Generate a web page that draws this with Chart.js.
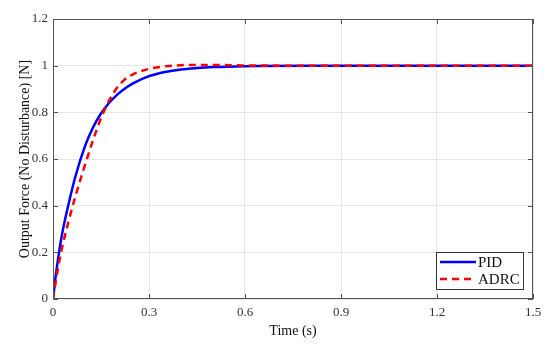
<!DOCTYPE html>
<html>
<head>
<meta charset="utf-8">
<script src="https://cdn.jsdelivr.net/npm/chart.js@4/dist/chart.umd.min.js"></script>
<style>
  html, body { margin: 0; padding: 0; background: #fff; }
  #wrap { width: 550px; height: 344px; }
</style>
</head>
<body>
<div id="wrap"><canvas id="stepChart" width="550" height="344"></canvas></div>
<script>
// time samples (s) and responses
const time = [0, 0.01, 0.02, 0.03, 0.05, 0.07, 0.1, 0.125, 0.15, 0.175, 0.2, 0.225, 0.25, 0.3, 0.35, 0.4, 0.45, 0.5, 0.6, 0.8, 1.0, 1.2, 1.5];
const pid  = [0, 0.115, 0.21, 0.29, 0.415, 0.525, 0.655, 0.735, 0.795, 0.84, 0.875, 0.902, 0.924, 0.955, 0.973, 0.984, 0.99, 0.994, 0.998, 1.0, 1.0, 1.0, 1.0];
const adrc = [0, 0.085, 0.165, 0.23, 0.34, 0.44, 0.575, 0.68, 0.775, 0.85, 0.905, 0.942, 0.963, 0.986, 0.997, 1.002, 1.003, 1.003, 1.001, 1.0, 1.0, 1.0, 1.0];

const xTicks = [0, 0.3, 0.6, 0.9, 1.2, 1.5];
const yTicks = [0, 0.2, 0.4, 0.6, 0.8, 1, 1.2];

const axisColor = '#555';
const serif = "'Liberation Serif', 'DejaVu Serif', serif";

function toPoints(xs, ys) {
  return xs.map((x, i) => ({ x: x, y: ys[i] }));
}

// box round the plot, inward ticks and the legend (MATLAB look)
const boxPlugin = {
  id: 'boxPlugin',
  afterDraw(chart) {
    const ctx = chart.ctx;
    const a = chart.chartArea;
    const xs = chart.scales.x;
    const ys = chart.scales.y;
    ctx.save();
    ctx.strokeStyle = axisColor;
    ctx.lineWidth = 1;
    ctx.strokeRect(a.left + 0.5, a.top + 0.5, a.right - a.left - 1, a.bottom - a.top - 1);
    ctx.beginPath();
    xTicks.forEach(t => {
      const px = Math.round(xs.getPixelForValue(t)) + 0.5;
      ctx.moveTo(px, a.bottom); ctx.lineTo(px, a.bottom - 5);
      ctx.moveTo(px, a.top); ctx.lineTo(px, a.top + 5);
    });
    yTicks.forEach(t => {
      const py = Math.round(ys.getPixelForValue(t)) + 0.5;
      ctx.moveTo(a.left, py); ctx.lineTo(a.left + 5, py);
      ctx.moveTo(a.right, py); ctx.lineTo(a.right - 5, py);
    });
    ctx.stroke();

    // legend
    const lx = 436, ly = 252, lw = 87, lh = 37;
    ctx.fillStyle = '#fff';
    ctx.fillRect(lx, ly, lw, lh);
    ctx.strokeStyle = '#333';
    ctx.strokeRect(lx + 0.5, ly + 0.5, lw, lh);
    const items = chart.data.datasets;
    items.forEach((ds, i) => {
      const yy = ly + 10 + i * 17;
      ctx.beginPath();
      ctx.strokeStyle = ds.borderColor;
      ctx.lineWidth = 2.5;
      ctx.setLineDash(ds.borderDash || []);
      ctx.moveTo(lx + 4, yy);
      ctx.lineTo(lx + 40, yy);
      ctx.stroke();
      ctx.setLineDash([]);
      ctx.fillStyle = '#111';
      ctx.font = '15px ' + serif;
      ctx.textBaseline = 'middle';
      ctx.fillText(ds.label, lx + 42, yy + 1);
    });
    ctx.restore();
  }
};

const ctx = document.getElementById('stepChart').getContext('2d');
new Chart(ctx, {
  type: 'line',
  data: {
    datasets: [
      {
        label: 'PID',
        data: toPoints(time, pid),
        borderColor: '#0000ff',
        borderWidth: 2.5,
        pointRadius: 0,
        cubicInterpolationMode: 'monotone',
        order: 2
      },
      {
        label: 'ADRC',
        data: toPoints(time, adrc),
        borderColor: '#ff0000',
        borderWidth: 2.5,
        borderDash: [7, 5],
        pointRadius: 0,
        cubicInterpolationMode: 'monotone',
        order: 1
      }
    ]
  },
  options: {
    responsive: false,
    animation: false,
    layout: { padding: { top: 19, right: 17, left: 13, bottom: 0 } },
    plugins: {
      legend: { display: false },
      tooltip: { enabled: false }
    },
    scales: {
      x: {
        type: 'linear',
        min: 0,
        max: 1.5,
        afterBuildTicks: (scale) => { scale.ticks = xTicks.map(v => ({ value: v })); },
        afterFit: (scale) => { scale.height = 45; },
        grid: { color: '#e6e6e6', drawTicks: false },
        border: { display: false },
        ticks: {
          color: '#333',
          padding: 6,
          maxRotation: 0,
          font: { family: serif, size: 13 },
          callback: (v) => String(v)
        },
        title: {
          display: true,
          text: 'Time (s)',
          color: '#111',
          padding: { top: 1 },
          font: { family: serif, size: 14 }
        }
      },
      y: {
        type: 'linear',
        min: 0,
        max: 1.2,
        afterBuildTicks: (scale) => { scale.ticks = yTicks.map(v => ({ value: v })); },
        afterFit: (scale) => { scale.width = 40; },
        grid: { color: '#e6e6e6', drawTicks: false },
        border: { display: false },
        ticks: {
          color: '#333',
          padding: 5,
          font: { family: serif, size: 13 },
          callback: (v) => String(v)
        },
        title: {
          display: true,
          text: 'Output Force (No Disturbance) [N]',
          color: '#111',
          padding: { bottom: 0 },
          font: { family: serif, size: 14 }
        }
      }
    }
  },
  plugins: [boxPlugin]
});
</script>
</body>
</html>
